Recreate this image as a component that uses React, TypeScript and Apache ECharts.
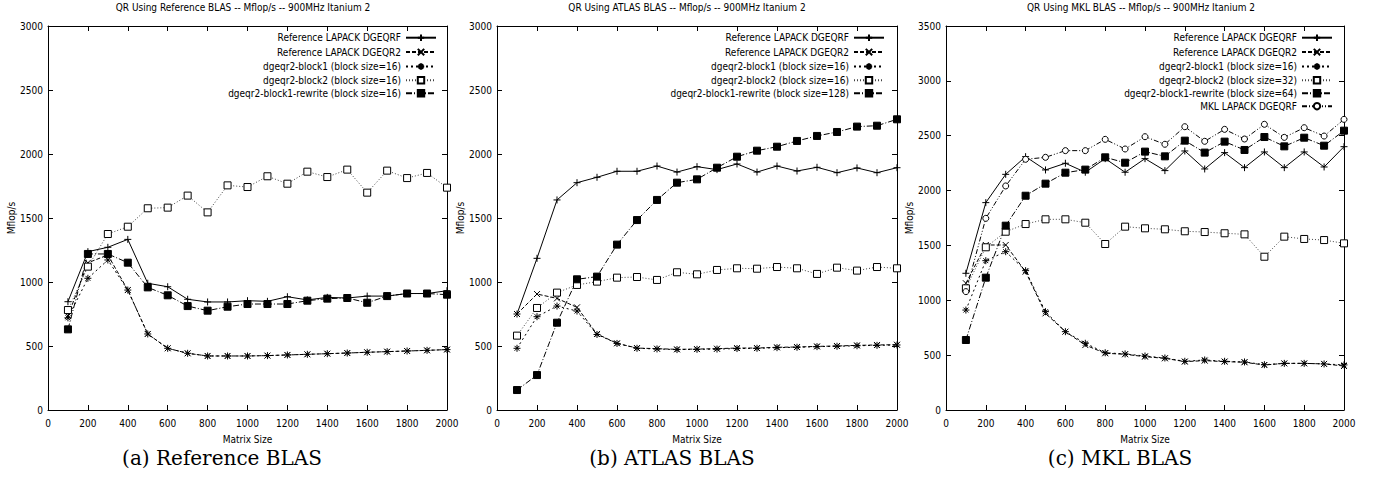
import React, { useEffect, useRef } from "react";
import * as echarts from "echarts";

const matrixSizes = [100, 200, 300, 400, 500, 600, 700, 800, 900, 1000, 1100, 1200, 1300, 1400, 1500, 1600, 1700, 1800, 1900, 2000];

// (a) Reference BLAS
const aDgeqrf = [846, 1237, 1271, 1333, 990, 963, 865, 844, 844, 854, 849, 885, 860, 880, 875, 890, 890, 910, 910, 932];
const aDgeqr2 = [734, 1150, 1211, 937, 594, 482, 443, 422, 422, 422, 425, 430, 435, 440, 445, 451, 456, 461, 466, 472];
const aBlock1 = [720, 1029, 1172, 937, 594, 482, 443, 422, 422, 422, 425, 430, 435, 440, 445, 451, 456, 461, 466, 472];
const aBlock2 = [781, 1120, 1375, 1432, 1576, 1581, 1675, 1544, 1755, 1742, 1826, 1768, 1862, 1820, 1878, 1698, 1870, 1812, 1852, 1737];
const aRewrite = [630, 1219, 1219, 1151, 958, 896, 812, 776, 807, 828, 828, 828, 854, 870, 875, 838, 890, 910, 910, 901];

// (b) ATLAS BLAS
const bDgeqrf = [750, 1185, 1641, 1776, 1818, 1865, 1865, 1906, 1859, 1901, 1878, 1922, 1859, 1906, 1867, 1896, 1854, 1891, 1854, 1893];
const bDgeqr2 = [750, 906, 872, 802, 594, 521, 484, 479, 474, 476, 479, 484, 484, 490, 492, 497, 500, 505, 508, 510];
const bBlock1 = [482, 729, 812, 773, 590, 520, 482, 477, 472, 474, 476, 480, 482, 487, 490, 495, 498, 502, 505, 508];
const bBlock2 = [581, 797, 917, 977, 1003, 1034, 1039, 1016, 1076, 1060, 1094, 1107, 1104, 1117, 1107, 1063, 1112, 1089, 1117, 1107];
const bRewrite = [156, 273, 682, 1021, 1042, 1292, 1484, 1641, 1776, 1802, 1893, 1979, 2026, 2057, 2102, 2141, 2172, 2214, 2221, 2271];

// (c) MKL BLAS
const cDgeqrf = [1246, 1890, 2148, 2309, 2188, 2249, 2167, 2291, 2167, 2291, 2182, 2361, 2197, 2346, 2209, 2352, 2209, 2352, 2215, 2400];
const cDgeqr2 = [1155, 1504, 1504, 1261, 881, 714, 592, 517, 508, 486, 471, 441, 450, 441, 435, 410, 425, 425, 420, 401];
const cBlock1 = [911, 1361, 1443, 1270, 896, 714, 608, 522, 511, 492, 474, 444, 456, 444, 438, 413, 425, 425, 420, 411];
const cBlock2 = [1109, 1483, 1625, 1695, 1738, 1738, 1707, 1513, 1671, 1656, 1647, 1629, 1622, 1611, 1601, 1397, 1580, 1559, 1549, 1519];
const cRewrite = [638, 1206, 1680, 1953, 2063, 2163, 2191, 2303, 2254, 2355, 2312, 2455, 2346, 2446, 2370, 2488, 2403, 2482, 2409, 2546];
const cMkl = [1079, 1747, 2042, 2285, 2303, 2364, 2364, 2467, 2379, 2491, 2422, 2582, 2449, 2558, 2470, 2604, 2485, 2573, 2497, 2649];

const panelTitles = [
  "QR Using Reference BLAS -- Mflop/s -- 900MHz Itanium 2",
  "QR Using ATLAS BLAS -- Mflop/s -- 900MHz Itanium 2",
  "QR Using MKL BLAS -- Mflop/s -- 900MHz Itanium 2",
];
const captions = ["(a) Reference BLAS", "(b) ATLAS BLAS", "(c) MKL BLAS"];
const yMaxes = [3000, 3000, 3500];

const N_DGEQRF = "Reference LAPACK DGEQRF";
const N_DGEQR2 = "Reference LAPACK DGEQR2";

const FONT = '"DejaVu Sans Condensed", "Liberation Sans Narrow", sans-serif';

const SYM_PLUS = "path://M0,5L10,5M5,0L5,10";
const SYM_CROSS = "path://M1,1L9,9M9,1L1,9";
const SYM_STAR = "path://M0,5L10,5M5,0L5,10M1.5,1.5L8.5,8.5M8.5,1.5L1.5,8.5";

type Kind = "dgeqrf" | "dgeqr2" | "block1" | "block2" | "rewrite" | "mkl";

const styleFor = (kind: Kind) => {
  switch (kind) {
    case "dgeqrf":
      return { symbol: SYM_PLUS, symbolSize: 7, lineType: "solid" as any, fill: "none", color: "#000" };
    case "dgeqr2":
      return { symbol: SYM_CROSS, symbolSize: 6, lineType: [4, 2], fill: "none", color: "#000" };
    case "block1":
      return { symbol: SYM_STAR, symbolSize: 7, lineType: [2, 3], fill: "none", color: "#000" };
    case "block2":
      return { symbol: "rect", symbolSize: 7, lineType: [1, 2], fill: "#fff", color: "#444" };
    case "rewrite":
      return { symbol: "rect", symbolSize: 7, lineType: [6, 2, 1, 2], fill: "#000", color: "#000" };
    default:
      return { symbol: "circle", symbolSize: 6, lineType: [5, 2, 1, 2, 1, 2], fill: "#fff", color: "#000" };
  }
};

const makeSeries = (name: string, kind: Kind, values: number[], idx: number) => {
  const s = styleFor(kind);
  return {
    name,
    type: "line",
    xAxisIndex: idx * 2,
    yAxisIndex: idx * 2,
    data: matrixSizes.map((x, i) => [x, values[i]]),
    symbol: s.symbol,
    symbolSize: s.symbolSize,
    showAllSymbol: true,
    lineStyle: { color: s.color, width: 1, type: s.lineType },
    itemStyle: { color: s.fill, borderColor: "#000", borderWidth: 1 },
    emphasis: { disabled: true },
    z: 3,
  };
};

const panels = [
  {
    left: 48,
    width: 399,
    legendRight: 938,
    nameGap: 24,
    series: [
      [N_DGEQRF, "dgeqrf", aDgeqrf],
      [N_DGEQR2, "dgeqr2", aDgeqr2],
      ["dgeqr2-block1 (block size=16)", "block1", aBlock1],
      ["dgeqr2-block2 (block size=16)", "block2", aBlock2],
      ["dgeqr2-block1-rewrite (block size=16)", "rewrite", aRewrite],
    ],
    titleX: 243,
    captionX: 222,
  },
  {
    left: 497,
    width: 400,
    legendRight: 490,
    nameGap: 27,
    series: [
      [N_DGEQRF, "dgeqrf", bDgeqrf],
      [N_DGEQR2, "dgeqr2", bDgeqr2],
      ["dgeqr2-block1 (block size=16)", "block1", bBlock1],
      ["dgeqr2-block2 (block size=16)", "block2", bBlock2],
      ["dgeqr2-block1-rewrite (block size=128)", "rewrite", bRewrite],
    ],
    titleX: 687,
    captionX: 672,
  },
  {
    left: 946,
    width: 398,
    legendRight: 42,
    nameGap: 22,
    series: [
      [N_DGEQRF, "dgeqrf", cDgeqrf],
      [N_DGEQR2, "dgeqr2", cDgeqr2],
      ["dgeqr2-block1 (block size=16)", "block1", cBlock1],
      ["dgeqr2-block2 (block size=32)", "block2", cBlock2],
      ["dgeqr2-block1-rewrite (block size=64)", "rewrite", cRewrite],
      ["MKL LAPACK DGEQRF", "mkl", cMkl],
    ],
    titleX: 1141,
    captionX: 1120,
  },
];

const axisText = { color: "#000", fontFamily: FONT, fontSize: 10 };

export default function App() {
  const ref = useRef<HTMLDivElement>(null);
  useEffect(() => {
    if (!ref.current) return;
    const chart = echarts.init(ref.current, undefined, { renderer: "svg" });
    const grids: any[] = [];
    const xAxes: any[] = [];
    const yAxes: any[] = [];
    const legends: any[] = [];
    const titles: any[] = [];
    const series: any[] = [];
    const graphics: any[] = [];
    const plain = (v: number) => String(v);

    panels.forEach((p, i) => {
      grids.push({ left: p.left, top: 26, width: p.width, height: 384, containLabel: false, show: false });
      const tick = { show: true, inside: true, length: 5, lineStyle: { color: "#000", width: 1 } };
      const line = { show: true, lineStyle: { color: "#000", width: 1 } };
      xAxes.push({
        type: "value", gridIndex: i, min: 0, max: 2000, interval: 200, position: "bottom",
        axisLine: { ...line, onZero: false }, axisTick: tick,
        axisLabel: { ...axisText, margin: 8, formatter: plain }, splitLine: { show: false },
        name: "Matrix Size", nameLocation: "middle", nameGap: 24, nameTextStyle: axisText,
      });
      xAxes.push({
        type: "value", gridIndex: i, min: 0, max: 2000, interval: 200, position: "top",
        axisLine: { ...line, onZero: false }, axisTick: tick,
        axisLabel: { show: false }, splitLine: { show: false },
      });
      yAxes.push({
        type: "value", gridIndex: i, min: 0, max: yMaxes[i], interval: 500, position: "left",
        axisLine: { ...line, onZero: false }, axisTick: tick,
        axisLabel: { ...axisText, margin: 5, formatter: plain }, splitLine: { show: false },
        name: "Mflop/s", nameLocation: "middle", nameGap: p.nameGap, nameTextStyle: axisText,
      });
      yAxes.push({
        type: "value", gridIndex: i, min: 0, max: yMaxes[i], interval: 500, position: "right",
        axisLine: { ...line, onZero: false }, axisTick: tick,
        axisLabel: { show: false }, splitLine: { show: false },
      });
      p.series.forEach(([name, kind, vals]) => {
        series.push(makeSeries(name as string, kind as Kind, vals as number[], i));
      });
      legends.push({
        data: p.series.map((s) => s[0] as string),
        orient: "vertical",
        align: "right",
        right: p.legendRight,
        top: 32,
        padding: 0,
        itemWidth: 30,
        itemHeight: 8,
        itemGap: 3,
        selectedMode: false,
        textStyle: { ...axisText },
      });
      titles.push({
        text: panelTitles[i],
        left: p.titleX,
        top: 2,
        textAlign: "center",
        padding: 0,
        textStyle: { ...axisText, fontWeight: "normal" },
      });
      graphics.push({
        type: "text",
        x: p.captionX,
        y: 458,
        style: {
          text: captions[i],
          fill: "#000",
          font: '20px "DejaVu Serif", "Liberation Serif", serif',
          align: "center",
          verticalAlign: "middle",
        },
      });
    });

    chart.setOption({
      animation: false,
      backgroundColor: "#fff",
      title: titles,
      grid: grids,
      xAxis: xAxes,
      yAxis: yAxes,
      legend: legends,
      series,
      graphic: graphics,
    });
    return () => chart.dispose();
  }, []);

  return (
    <div style={{ position: "fixed", left: 0, top: 0, width: 1375, height: 481, background: "#fff" }}>
      <div ref={ref} style={{ width: 1375, height: 481 }} />
    </div>
  );
}
